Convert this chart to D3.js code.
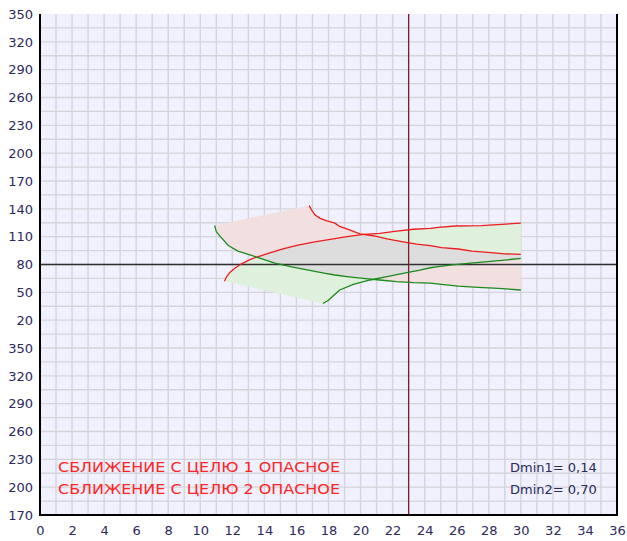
<!DOCTYPE html>
<html>
<head>
<meta charset="utf-8">
<script src="https://cdn.jsdelivr.net/npm/d3@7/dist/d3.min.js"></script>
<style>
  html, body { margin: 0; padding: 0; background: #ffffff; }
  svg { display: block; }
</style>
</head>
<body>
<svg id="chart" width="627" height="541"></svg>
<script>
// Speed axis (knots) and course axis (degrees, wrapped)
const xTicks = [0, 2, 4, 6, 8, 10, 12, 14, 16, 18, 20, 22, 24, 26, 28, 30, 32, 34, 36];
const yTickValues = [-190, -160, -130, -100, -70, -40, -10, 20, 50, 80, 110, 140, 170, 200, 230, 260, 290, 320, 350];
const yTickLabels = ["170", "200", "230", "260", "290", "320", "350", "20", "50", "80", "110", "140", "170", "200", "230", "260", "290", "320", "350"];

// Boundary curves: [speed, course]
const red1 = [[11.5,62],[11.65,67],[11.85,71.5],[12.15,76],[12.6,81],[13.2,86],[14.05,91],[15.1,96.5],[16.1,101],[17.15,104.5],[18.4,108],[19.15,110],[20.2,112.5],[21.2,113.5],[22.25,116],[23.3,118],[24.35,119],[24.85,120],[25.9,121.5],[27.55,122],[28.8,123.3],[30,124.5]];
const red2 = [[16.8,143.5],[16.95,138.5],[17.15,133.5],[17.45,130],[17.9,127],[18.4,124.5],[18.7,121],[19.35,117],[19.95,113],[20.8,111],[21.65,107.5],[22.65,104.5],[23.5,102],[24.35,100.3],[25.05,98.2],[26.1,96.7],[26.95,94.5],[27.95,93],[29,91.5],[30,91]];
const green1 = [[10.9,122],[11.0,115.5],[11.25,110],[11.75,100.5],[12.35,94.5],[13.0,91],[13.85,86],[14.65,81.5],[15.7,77.5],[16.75,74],[17.8,70.5],[18.4,68.7],[19.15,67],[20.15,65],[21.2,63.3],[22.25,61.5],[23.3,60.5],[24.35,60],[25.05,58.6],[26.1,56.8],[27.35,55.4],[28.6,54.3],[30,52.5]];
const green2 = [[17.65,38],[18.0,41.5],[18.4,48],[18.7,52.5],[19.55,58.5],[20.6,63.3],[21.65,67],[22.65,70.5],[23.7,74],[24.35,76.5],[24.85,77.6],[25.7,79.5],[26.7,81.3],[27.95,83],[29,84.8],[30,86.5]];

// Own ship speed / course crosshair
const ownSpeed = 23;
const ownCourse = 80;

const warnings = ["СБЛИЖЕНИЕ С ЦЕЛЮ 1 ОПАСНОЕ", "СБЛИЖЕНИЕ С ЦЕЛЮ 2 ОПАСНОЕ"];
const dminLabels = ["Dmin1= 0,14", "Dmin2= 0,70"];

const svg = d3.select("#chart");
const plotL = 40, plotR = 617, plotT = 14, plotB = 515;

const x = d3.scaleLinear().domain([0, 36]).range([plotL, plotR]);
const y = d3.scaleLinear().domain([-190, 350]).range([plotB, plotT]);

// plot background
svg.append("rect")
  .attr("x", plotL).attr("y", plotT)
  .attr("width", plotR - plotL).attr("height", plotB - plotT)
  .attr("fill", "#f0f0ff");

// grid: every knot, every 15 degrees
const grid = svg.append("g").attr("stroke", "#d4d4da").attr("stroke-width", 1.4);
d3.range(1, 36).forEach(v => {
  grid.append("line").attr("x1", x(v)).attr("x2", x(v)).attr("y1", plotT).attr("y2", plotB);
});
d3.range(-190 + 15, 350, 15).forEach(v => {
  grid.append("line").attr("x1", plotL).attr("x2", plotR).attr("y1", y(v)).attr("y2", y(v));
});

const line = d3.line().x(d => x(d[0])).y(d => y(d[1]));

// zone bounded by the upper red curve and the lower green curve
const zoneA = [...red2, [30, green1[green1.length - 1][1]], ...green1.slice().reverse()];
// zone bounded by the other red curve and green curve
const zoneB = [...red1, [30, green2[green2.length - 1][1]], ...green2.slice().reverse()];

const defs = svg.append("defs");
defs.append("clipPath").attr("id", "zoneAClip")
  .append("path").attr("d", line(zoneA) + "Z");

svg.append("path").attr("d", line(zoneA) + "Z").attr("fill", "#f2dfe0");
svg.append("path").attr("d", line(zoneB) + "Z").attr("fill", "#dff0dc");
svg.append("path").attr("d", line(zoneB) + "Z").attr("fill", "#dddddd")
  .attr("clip-path", "url(#zoneAClip)");

// crosshair
svg.append("line")
  .attr("x1", plotL).attr("x2", plotR)
  .attr("y1", y(ownCourse)).attr("y2", y(ownCourse))
  .attr("stroke", "#303030").attr("stroke-width", 1.3);
svg.append("line")
  .attr("x1", x(ownSpeed)).attr("x2", x(ownSpeed))
  .attr("y1", plotT).attr("y2", plotB)
  .attr("stroke", "#7a1f2c").attr("stroke-width", 1.3);

// boundary curves
[[red1, "#ee1c1c"], [red2, "#ee1c1c"], [green1, "#1b8a1b"], [green2, "#1b8a1b"]].forEach(([pts, c]) => {
  svg.append("path").attr("d", line(pts))
    .attr("fill", "none").attr("stroke", c).attr("stroke-width", 1.3);
});

// frame
svg.append("path")
  .attr("d", `M${plotL},${plotT}V${plotB}H${plotR}V${plotT}`)
  .attr("fill", "none").attr("stroke", "#000").attr("stroke-width", 2);

// axes
const labelColor = "#2a2a5c";
const yAxis = svg.append("g").attr("transform", `translate(${plotL},0)`)
  .call(d3.axisLeft(y).tickValues(yTickValues)
    .tickFormat((d, i) => yTickLabels[i]).tickSize(0).tickPadding(7));
const xAxis = svg.append("g").attr("transform", `translate(0,${plotB})`)
  .call(d3.axisBottom(x).tickValues(xTicks).tickFormat(d3.format("d")).tickSize(0).tickPadding(11));
[xAxis, yAxis].forEach(g => {
  g.select(".domain").remove();
  g.selectAll("text").attr("fill", labelColor)
    .style("font-family", "'DejaVu Sans', sans-serif").style("font-size", "13px");
});

// status messages
warnings.forEach((t, i) => {
  svg.append("text")
    .attr("x", 58).attr("y", 472 + i * 22)
    .attr("fill", "#ff2424")
    .attr("textLength", 282).attr("lengthAdjust", "spacingAndGlyphs")
    .style("font-family", "'DejaVu Sans', sans-serif").style("font-size", "13.5px")
    .text(t);
});
dminLabels.forEach((t, i) => {
  svg.append("text")
    .attr("x", 510).attr("y", 472 + i * 22)
    .attr("fill", labelColor)
    .style("font-family", "'DejaVu Sans', sans-serif").style("font-size", "13px")
    .text(t);
});
</script>
</body>
</html>
